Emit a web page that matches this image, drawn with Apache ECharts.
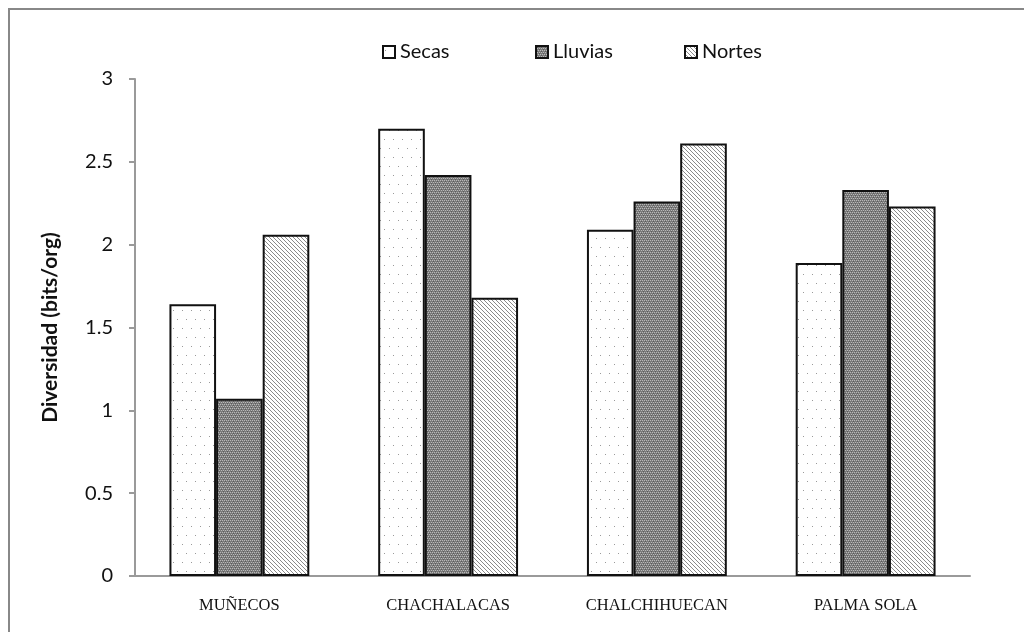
<!DOCTYPE html>
<html>
<head>
<meta charset="utf-8">
<script src="https://cdn.jsdelivr.net/npm/echarts@6/dist/echarts.min.js"></script>
<style>
  html, body { margin: 0; padding: 0; background: #fff; }
  #chart { width: 1024px; height: 632px; }
</style>
</head>
<body>
<div id="chart"></div>
<script>
const sites = ['MUÑECOS', 'CHACHALACAS', 'CHALCHIHUECAN', 'PALMA SOLA'];
const seasons = ['Secas', 'Lluvias', 'Nortes'];
const secas = [1.64, 2.70, 2.09, 1.89];
const lluvias = [1.07, 2.42, 2.26, 2.33];
const nortes = [2.06, 1.68, 2.61, 2.23];
const yTicks = [0, 0.5, 1, 1.5, 2, 2.5, 3];

// small tiles used as fill patterns
function tile(w, h, draw) {
    const c = document.createElement('canvas');
    c.width = w;
    c.height = h;
    const g = c.getContext('2d');
    draw(g);
    return c;
}

const dots = tile(9, 18, g => {
    g.fillStyle = '#fff';
    g.fillRect(0, 0, 9, 18);
    g.fillStyle = '#9a9a9a';
    g.fillRect(2, 4, 1, 1);
    g.fillRect(6, 13, 1, 1);
});

const checker = tile(4, 4, g => {
    g.fillStyle = '#7a7a7a';
    g.fillRect(0, 0, 4, 4);
    g.fillStyle = '#b8b8b8';
    g.fillRect(0, 0, 1, 1);
    g.fillRect(2, 0, 1, 1);
    g.fillRect(1, 2, 1, 1);
    g.fillRect(3, 2, 1, 1);
    g.fillStyle = '#5c5c5c';
    g.fillRect(1, 1, 1, 1);
    g.fillRect(3, 3, 1, 1);
});

const diag = tile(4, 4, g => {
    g.fillStyle = '#fff';
    g.fillRect(0, 0, 4, 4);
    g.fillStyle = '#8a8a8a';
    for (let i = 0; i < 4; i++) g.fillRect(i, i, 1, 1);
});

function barSeries(name, data, pattern) {
    return {
        name: name,
        type: 'bar',
        data: data,
        barGap: '0%',
        barCategoryGap: '33%',
        itemStyle: {
            color: { image: pattern, repeat: 'repeat' },
            borderColor: '#111',
            borderWidth: 2
        }
    };
}

// one legend per season so each item sits where the original has it
const legendLeft = [377, 530, 679];
const legends = seasons.map((s, i) => ({
    top: 37,
    left: legendLeft[i],
    itemWidth: 12,
    itemHeight: 12,
    icon: 'rect',
    textStyle: { fontSize: 20, color: '#111', fontFamily: 'Lato' },
    data: [s]
}));

const chart = echarts.init(document.getElementById('chart'));
chart.setOption({
    animation: false,
    backgroundColor: '#fff',
    textStyle: { fontFamily: 'Lato' },
    legend: legends,
    grid: { left: 135, right: 54, top: 79, bottom: 56 },
    xAxis: {
        type: 'category',
        data: sites,
        axisLine: { lineStyle: { color: '#9a9a9a', width: 2 } },
        axisTick: { show: false },
        axisLabel: {
            margin: 21,
            fontFamily: 'Liberation Serif',
            fontSize: 16.5,
            color: '#111'
        }
    },
    yAxis: {
        type: 'value',
        min: yTicks[0],
        max: yTicks[yTicks.length - 1],
        interval: 0.5,
        name: 'Diversidad (bits/org)',
        nameLocation: 'middle',
        nameGap: 74,
        nameTextStyle: { fontSize: 21, fontWeight: 'bold', color: '#111', fontFamily: 'Lato' },
        axisLine: { show: true, lineStyle: { color: '#9a9a9a', width: 2 } },
        axisTick: { show: true, length: 6, lineStyle: { color: '#9a9a9a', width: 2 } },
        splitLine: { show: false },
        axisLabel: { margin: 22, fontSize: 20, color: '#111', fontFamily: 'Lato' }
    },
    series: [
        barSeries('Secas', secas, dots),
        barSeries('Lluvias', lluvias, checker),
        barSeries('Nortes', nortes, diag)
    ],
    graphic: [
        { type: 'line', shape: { x1: 9, y1: 9, x2: 9, y2: 632 }, style: { stroke: '#888', lineWidth: 2 } },
        { type: 'line', shape: { x1: 8, y1: 9, x2: 1024, y2: 9 }, style: { stroke: '#888', lineWidth: 2 } }
    ]
});
</script>
</body>
</html>
